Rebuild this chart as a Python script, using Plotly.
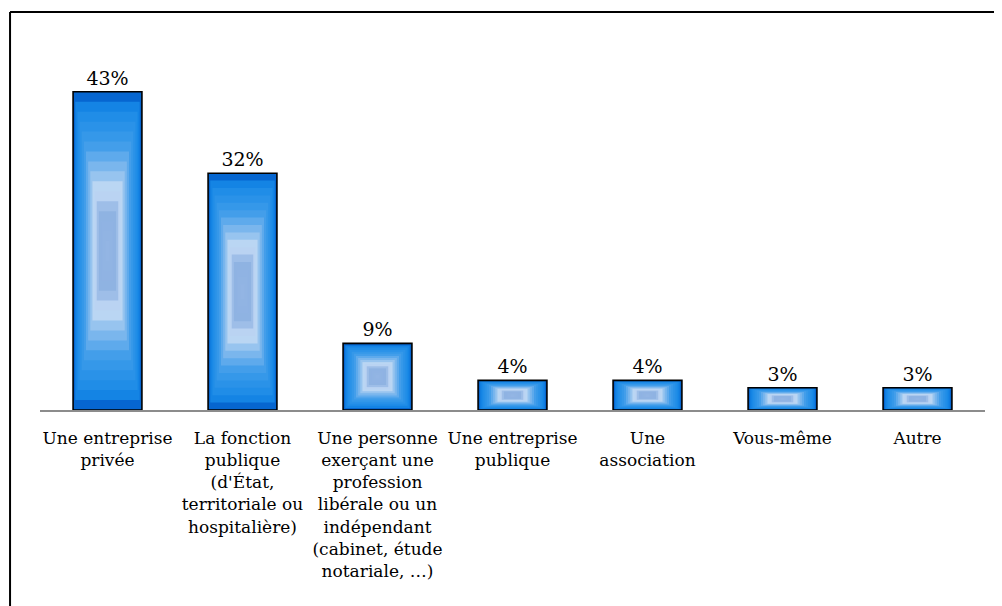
import plotly.graph_objects as go

categories = [
    "Une entreprise<br>privée",
    "La fonction<br>publique<br>(d'État,<br>territoriale ou<br>hospitalière)",
    "Une personne<br>exerçant une<br>profession<br>libérale ou un<br>indépendant<br>(cabinet, étude<br>notariale, …)",
    "Une entreprise<br>publique",
    "Une<br>association",
    "Vous-même",
    "Autre",
]
values = [43, 32, 9, 4, 4, 3, 3]
value_labels = ["43%", "32%", "9%", "4%", "4%", "3%", "3%"]

FONT = "DejaVu Serif"
BAR_W = 0.51
N = 16

# rectangular (from centre) gradient stops: edge -> centre
stops = [
    (0.00, (6, 102, 208)),
    (0.07, (22, 136, 230)),
    (0.30, (62, 156, 234)),
    (0.48, (140, 190, 238)),
    (0.58, (196, 219, 244)),
    (0.66, (178, 204, 240)),
    (0.71, (142, 178, 226)),
    (1.00, (148, 182, 228)),
]

def grad(t):
    for (t0, c0), (t1, c1) in zip(stops[:-1], stops[1:]):
        if t0 <= t <= t1:
            f = (t - t0) / (t1 - t0) if t1 > t0 else 0
            return "rgb(%d,%d,%d)" % tuple(round(a + (b - a) * f) for a, b in zip(c0, c1))
    return "rgb(%d,%d,%d)" % stops[-1][1]

x_idx = list(range(len(categories)))
fig = go.Figure()
for k in range(N):
    t = k / N
    s = 1 - t
    fig.add_trace(go.Bar(
        x=x_idx,
        y=[v * s for v in values],
        base=[v * t / 2 for v in values],
        width=BAR_W * s,
        marker=dict(color=grad(t), line=dict(width=0)),
        hoverinfo="skip",
        showlegend=False,
    ))

# outline + labels
fig.add_trace(go.Bar(
    x=x_idx,
    y=values,
    width=BAR_W,
    marker=dict(color="rgba(0,0,0,0)", line=dict(color="black", width=1.6)),
    text=value_labels,
    textposition="outside",
    textfont=dict(family=FONT, size=19, color="black"),
    cliponaxis=False,
    showlegend=False,
))

fig.update_layout(
    barmode="overlay",
    width=994, height=598,
    margin=dict(l=32, r=17, t=32, b=196),
    paper_bgcolor="white", plot_bgcolor="white",
    font=dict(family=FONT, color="black"),
    xaxis=dict(
        tickmode="array", tickvals=x_idx, ticktext=categories,
        tickfont=dict(family=FONT, size=17, color="black"),
        tickangle=0, ticklabelstandoff=12,
        range=[-0.5, len(categories) - 0.5],
        showline=True, linecolor="#8c8c8c", linewidth=1.5,
        ticks="", showgrid=False, zeroline=False, fixedrange=True,
    ),
    yaxis=dict(range=[0, 50], visible=False, showgrid=False, zeroline=False),
    shapes=[
        dict(type="line", xref="paper", yref="paper",
             x0=-0.0317, x1=1.1, y0=1.0757, y1=1.0757,
             line=dict(color="black", width=2)),
        dict(type="line", xref="paper", yref="paper",
             x0=-0.0317, x1=-0.0317, y0=-0.6, y1=1.0757,
             line=dict(color="black", width=2)),
    ],
)

fig.write_html("out.html")
